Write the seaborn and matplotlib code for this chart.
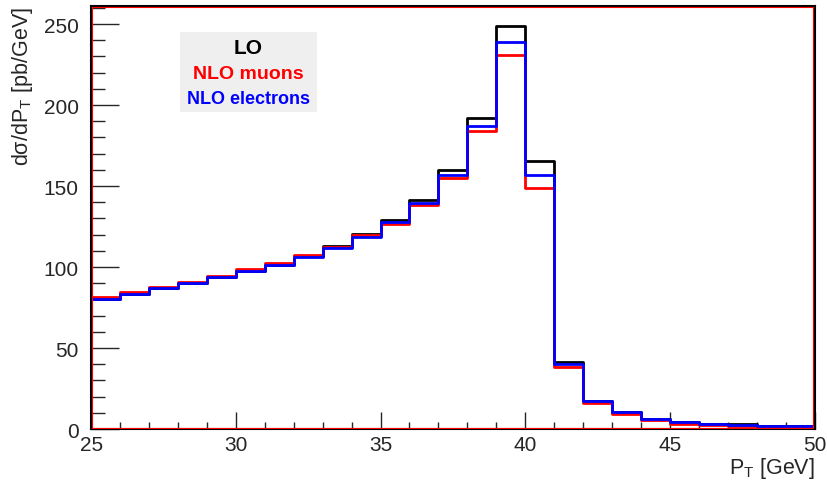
import numpy as np
import matplotlib
matplotlib.use("Agg")
import matplotlib.pyplot as plt
from matplotlib.patches import Rectangle
from matplotlib.ticker import MultipleLocator
import seaborn as sns

# Bin edges (GeV) and bin contents (pb/GeV)
edges = list(range(25, 51))
lo = [80.5, 83.5, 86.8, 89.9, 93.6, 97.7, 101.3, 106.8, 113.0, 120.2, 129.0, 141.4,
      160.0, 191.8, 249.0, 165.2, 41.5, 17.3, 10.4, 6.3, 4.4, 3.4, 2.8, 2.1, 1.9]
nlo_muons = [81.7, 84.8, 87.9, 90.9, 94.6, 98.8, 102.5, 107.4, 112.5, 119.8, 126.5, 138.3,
             155.0, 183.8, 231.0, 148.6, 38.0, 16.3, 9.2, 5.6, 3.3, 2.5, 2.0, 1.2, 1.0]
nlo_electrons = [80.4, 83.5, 86.8, 89.9, 93.6, 97.7, 101.2, 106.4, 111.9, 118.7, 127.7, 139.5,
                 156.8, 186.9, 238.9, 156.8, 40.0, 17.0, 10.2, 6.2, 4.1, 3.2, 2.7, 2.0, 1.9]
series = [("LO", lo, "black"), ("NLO muons", nlo_muons, "#ff0000"),
          ("NLO electrons", nlo_electrons, "#0000ff")]

sns.set_style("ticks")
plt.rcParams["font.family"] = ["Liberation Sans", "DejaVu Sans"]
plt.rcParams["mathtext.fontset"] = "custom"
plt.rcParams["mathtext.rm"] = "Liberation Sans"
plt.rcParams["mathtext.it"] = "Liberation Sans"

fig = plt.figure(figsize=(8.28, 4.81), dpi=100)
ax = fig.add_axes([0.110, 0.106, 0.874, 0.879])

centers = [e + 0.5 for e in edges[:-1]]
for name, vals, col in series:
    sns.histplot(x=centers, weights=vals, bins=edges, element="step", fill=False,
                 color=col, linewidth=2, ax=ax)

ax.set_xlim(25, 50)
ax.set_ylim(0, 261)

# inner red frame
ax.add_patch(Rectangle((0.001, 0.002), 0.997, 0.995, transform=ax.transAxes,
                       fill=False, edgecolor="#ff0000", linewidth=0.8, zorder=5))

for s in ax.spines.values():
    s.set_color("black")
    s.set_linewidth(1.5)

ax.xaxis.set_major_locator(MultipleLocator(5))
ax.xaxis.set_minor_locator(MultipleLocator(1))
ax.yaxis.set_major_locator(MultipleLocator(50))
ax.yaxis.set_minor_locator(MultipleLocator(10))
ax.tick_params(axis="x", which="major", direction="in", length=12, width=1, labelsize=15, pad=4)
ax.tick_params(axis="x", which="minor", direction="in", length=5, width=1)
ax.tick_params(axis="y", which="major", direction="in", length=20, width=1, labelsize=15, pad=9)
ax.tick_params(axis="y", which="minor", direction="in", length=10, width=1)

ax.set_xlabel(r"P$_{\mathregular{T}}$ [GeV]", fontsize=15.5, loc="right", labelpad=1)
ax.set_ylabel(r"d$\sigma$/dP$_{\mathregular{T}}$ [pb/GeV]", fontsize=15.5, loc="top", labelpad=6)

# legend box
ax.add_patch(Rectangle((0.123, 0.749), 0.189, 0.190, transform=ax.transAxes,
                       facecolor="#efefef", edgecolor="none", zorder=6))
for (name, vals, col), yy, fs in zip(series, [0.903, 0.840, 0.781], [15, 14, 13]):
    ax.text(0.217, yy, name, transform=ax.transAxes, ha="center", va="center",
            fontsize=fs, fontweight="bold", color=col, zorder=7)

fig.savefig("out.png", dpi=100)
